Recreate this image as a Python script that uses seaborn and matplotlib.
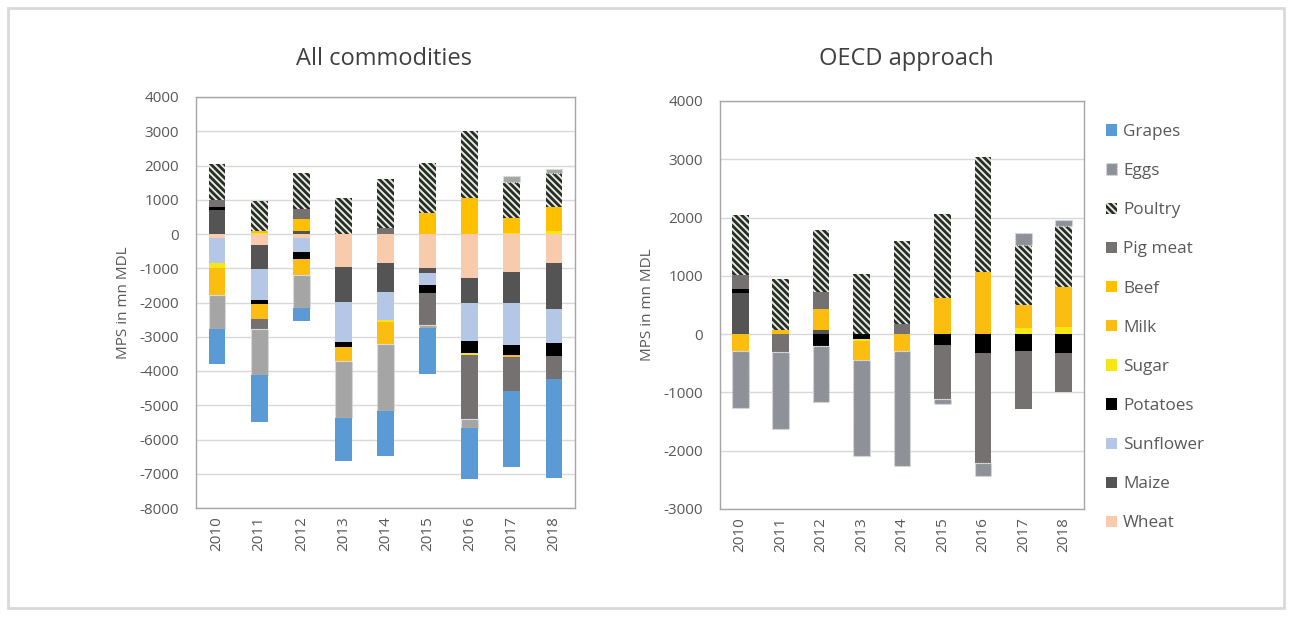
import numpy as np
import matplotlib
matplotlib.use('Agg')
import matplotlib.pyplot as plt
from matplotlib.patches import Patch, Rectangle
import seaborn as sns

years = ['2010', '2011', '2012', '2013', '2014', '2015', '2016', '2017', '2018']

# stacking order (bottom -> top), as in the Excel chart
series = ['Wheat', 'Maize', 'Sunflower', 'Potatoes', 'Sugar', 'Milk', 'Beef',
          'Pig meat', 'Poultry', 'Eggs', 'Grapes']

# ---- All commodities (MPS, mn MDL) ----
all_wheat = [-130, -320, -130, -975, -850, -1000, -1290, -1100, -855]
all_maize = [690, -715, 80, -1000, -850, -130, -730, -920, -1335]
all_sunflower = [-730, -895, -390, -1165, -810, -360, -1100, -1230, -990]
all_potatoes = [100, -120, -220, -145, 0, -240, -340, -270, -370]
all_sugar = [-145, 30, 0, 0, -50, 0, -60, 40, 90]
all_milk = [-780, -440, -460, -435, -660, 0, 0, -70, 0]
all_beef = [0, 50, 350, 0, 0, 610, 1050, 420, 685]
all_pig = [210, -280, 290, 0, 180, -920, -1870, -1000, -670]
all_poultry = [1040, 880, 1055, 1050, 1435, 1455, 1960, 1050, 1010]
all_eggs = [-990, -1340, -950, -1650, -1960, -100, -260, 195, 125]
all_grapes = [-1020, -1380, -390, -1260, -1310, -1330, -1510, -2210, -2890]

# ---- OECD approach ----
oecd_maize = [700, 0, 70, 0, 0, 0, 0, 0, 0]
oecd_potatoes = [75, 0, -212, -86, 0, -189, -316, -287, -316]
oecd_sugar = [0, 0, 0, -29, 0, 0, 0, 98, 115]
oecd_milk = [-287, 75, 356, -327, -287, 614, 1073, 402, 699]
oecd_pig = [240, -305, 305, 0, 172, -930, -1892, -1003, -677]
oecd_poultry = [1021, 871, 1060, 1033, 1434, 1451, 1968, 1032, 1033]
oecd_eggs = [-975, -1330, -953, -1653, -1968, -86, -230, 206, 103]

all_data = {'Wheat': all_wheat, 'Maize': all_maize, 'Sunflower': all_sunflower,
            'Potatoes': all_potatoes, 'Sugar': all_sugar, 'Milk': all_milk,
            'Beef': all_beef, 'Pig meat': all_pig, 'Poultry': all_poultry,
            'Eggs': all_eggs, 'Grapes': all_grapes}
oecd_data = {'Maize': oecd_maize, 'Potatoes': oecd_potatoes, 'Sugar': oecd_sugar,
             'Milk': oecd_milk, 'Pig meat': oecd_pig, 'Poultry': oecd_poultry,
             'Eggs': oecd_eggs}

styles = {
    'Wheat': dict(color='#f8cbad', linewidth=0),
    'Maize': dict(color='#545454', linewidth=0),
    'Sunflower': dict(color='#b4c7e7', linewidth=0),
    'Potatoes': dict(color='#000000', linewidth=0),
    'Sugar': dict(color='#f5e614', linewidth=0),
    'Milk': dict(color='#fbbd10', linewidth=0),
    'Beef': dict(color='#ffc000', linewidth=0),
    'Pig meat': dict(color='#767171', linewidth=0),
    'Poultry': dict(facecolor='#e2efda', edgecolor='#2b2b2b', hatch='\\\\\\\\\\', linewidth=0),
    'Eggs': dict(facecolor='#a5a5a5', edgecolor='#e0e0e0', linewidth=0.9, linestyle=(0, (1, 1))),
    'Grapes': dict(color='#5b9bd5', linewidth=0),
}

sns.set_theme(style='white')
plt.rcParams['font.family'] = ['Open Sans', 'DejaVu Sans']
plt.rcParams['axes.unicode_minus'] = False
plt.rcParams['hatch.linewidth'] = 2.0
plt.rcParams['hatch.color'] = '#2b2b2b'

text_col = '#595959'


def stacked(ax, data, width, eggs_color):
    x = np.arange(len(years))
    pos = np.zeros(len(years))
    neg = np.zeros(len(years))
    for name in series:
        if name not in data:
            continue
        vals = np.array(data[name], dtype=float)
        bottom = np.where(vals >= 0, pos, neg)
        st = dict(styles[name])
        if name == 'Eggs':
            st['facecolor'] = eggs_color
        keep = vals != 0
        ax.bar(x[keep], vals[keep], width, bottom=bottom[keep], zorder=3, **st)
        pos += np.clip(vals, 0, None)
        neg += np.clip(vals, None, 0)


def style_axes(ax, lo, hi):
    ax.set_xlim(-0.5, len(years) - 0.5)
    ax.set_ylim(lo, hi)
    ax.set_yticks(np.arange(lo, hi + 1, 1000))
    ax.set_xticks(np.arange(len(years)))
    ax.set_xticklabels(years, rotation=90)
    ax.grid(axis='y', color='#d9d9d9', linewidth=1.0, zorder=0)
    ax.set_axisbelow(True)
    for sp in ax.spines.values():
        sp.set_color('#a6a6a6')
        sp.set_linewidth(1.0)
    ax.tick_params(length=0, labelsize=11, labelcolor=text_col)
    ax.tick_params(axis='y', pad=12)
    ax.tick_params(axis='x', pad=6)
    ax.set_ylabel('MPS in mn MDL', fontsize=11, color=text_col, labelpad=6)


fig = plt.figure(figsize=(12.9, 6.17), dpi=100)
ax1 = fig.add_axes([196 / 1290, 1 - 508 / 617, 379 / 1290, 411 / 617])
ax2 = fig.add_axes([720 / 1290, 1 - 509 / 617, 364 / 1290, 408 / 617])

stacked(ax1, all_data, 0.4, '#a5a5a5')
style_axes(ax1, -8000, 4000)

stacked(ax2, oecd_data, 0.41, '#8f9199')
style_axes(ax2, -3000, 4000)

fig.text(384 / 1290, 1 - 65 / 617, 'All commodities', ha='center', va='baseline',
         fontsize=17, color='#404040')
fig.text(906 / 1290, 1 - 65 / 617, 'OECD approach', ha='center', va='baseline',
         fontsize=17, color='#404040')

legend_order = ['Grapes', 'Eggs', 'Poultry', 'Pig meat', 'Beef', 'Milk', 'Sugar',
                'Potatoes', 'Sunflower', 'Maize', 'Wheat']
handles = []
for name in legend_order:
    st = dict(styles[name])
    if name == 'Eggs':
        st['facecolor'] = '#8f9199'
    handles.append(Patch(label=name, **st))
fig.legend(handles=handles, loc='upper left', bbox_to_anchor=(1106 / 1290, 1 - 124 / 617),
           frameon=False, fontsize=12.3, labelcolor=text_col, handlelength=0.64,
           handleheight=0.64, handletextpad=0.35, labelspacing=1.355,
           borderpad=0, borderaxespad=0)

fig.add_artist(Rectangle((8 / 1290, 1 - 608 / 617), 1276 / 1290, 600 / 617,
                         transform=fig.transFigure, fill=False,
                         edgecolor='#d9d9d9', linewidth=2))

fig.savefig('out.png', dpi=100)
